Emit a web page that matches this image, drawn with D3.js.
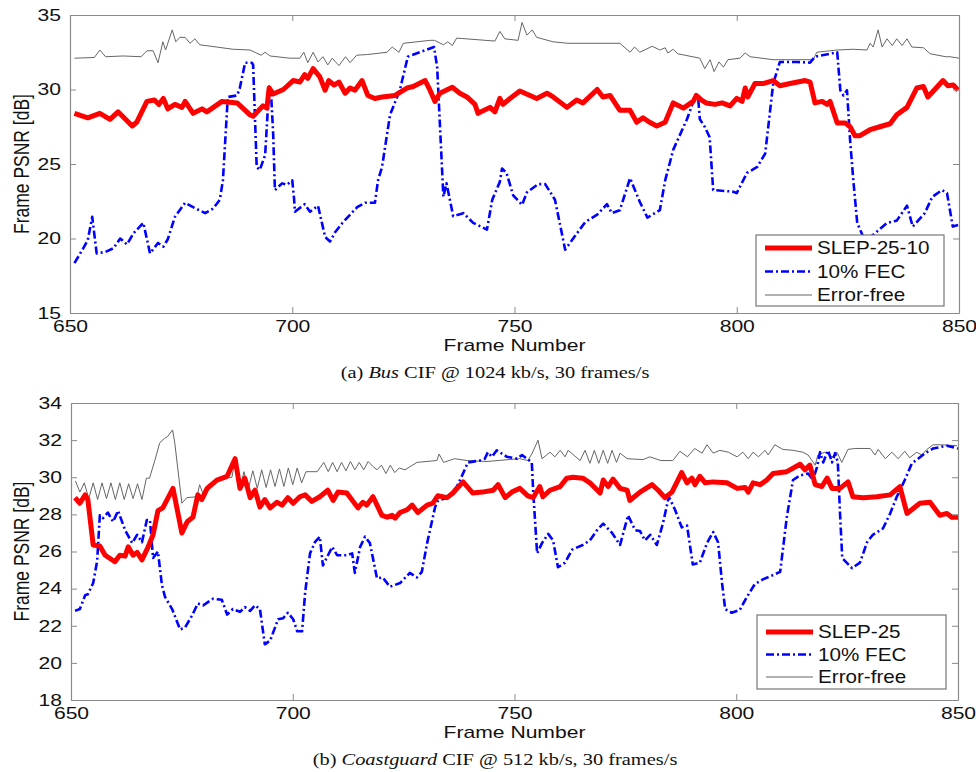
<!DOCTYPE html>
<html>
<head>
<meta charset="utf-8">
<script src="https://cdn.jsdelivr.net/npm/d3@7/dist/d3.min.js"></script>
<style>
  body { margin: 0; background: #fff; }
  svg { display: block; }
</style>
</head>
<body>
<div id="chart"></div>
<script>
/* =========================
   Data
========================= */
const frameTicks = [650, 700, 750, 800, 850];
const busPsnrTicks = [15, 20, 25, 30, 35];
const coastPsnrTicks = [18, 20, 22, 24, 26, 28, 30, 32, 34];

const busLegend = ["SLEP-25-10", "10% FEC", "Error-free"];
const coastLegend = ["SLEP-25", "10% FEC", "Error-free"];

const busCaption = ["(a) ", "Bus", " CIF @ 1024 kb/s, 30 frames/s"];
const coastCaption = ["(b) ", "Coastguard", " CIF @ 512 kb/s, 30 frames/s"];

// [frame, PSNR dB]
const busSlep = [[651,28.4],[652,28.3],[654,28.1],[656.7,28.4],[659,28.0],[660.8,28.5],[664,27.55],[665,27.8],[667.3,29.2],[669,29.3],[670,29.0],[671,29.4],[672,28.7],[673.6,29.0],[675.2,28.8],[675.9,29.2],[677.7,28.4],[679.7,28.7],[680.8,28.5],[684.2,29.2],[687.6,29.1],[690.5,28.3],[691.2,28.2],[693.4,28.9],[694.3,28.75],[694.8,30.1],[695.7,29.7],[698,30.0],[700.2,30.6],[701.7,30.5],[702.8,31.0],[703.5,30.75],[704.7,31.4],[706.2,30.85],[707.4,29.95],[708.2,30.6],[709.4,30.3],[710.5,30.5],[711.9,29.75],[713,30.1],[714.1,29.95],[715.7,30.6],[717,29.6],[718.6,29.4],[720.2,29.5],[723.1,29.6],[725.8,30.1],[727.2,30.2],[729.9,30.6],[731,29.95],[732.1,29.2],[733.2,29.75],[736,30.15],[737.7,29.75],[739.3,29.5],[741.1,29.0],[741.8,28.4],[744.5,28.8],[745.6,28.5],[746.7,29.4],[747.4,29.0],[749,29.4],[751.2,29.9],[755,29.4],[757.3,29.75],[758.7,29.5],[761.8,28.8],[764,29.3],[765.4,29.1],[768.6,30.0],[769.9,29.5],[771.5,29.6],[773.7,28.6],[776,28.6],[777.5,27.8],[778.9,28.1],[780.4,27.8],[782,27.55],[783.9,27.8],[785.7,29.1],[788,28.75],[790.2,29.2],[790.9,29.6],[792,29.3],[793.1,29.1],[795.1,29.0],[796.7,29.1],[798.5,28.9],[800,29.4],[801.2,29.2],[801.9,30.1],[802.5,29.5],[804.1,30.4],[805.9,30.4],[808.2,30.6],[809.7,30.25],[812,30.4],[815.4,30.6],[816.5,30.5],[817.6,29.1],[819.2,29.2],[820.3,29.0],[821,29.2],[822.6,27.75],[824.4,27.75],[825.5,27.5],[826.6,26.9],[827.7,26.9],[830,27.3],[832.2,27.5],[834.5,27.7],[836,28.3],[838.3,28.8],[840.5,30.1],[842,30.2],[843,29.5],[846.4,30.6],[847.5,30.25],[848.7,30.3],[849.8,29.95]];

const busFec = [[651,18.35],[653,19.35],[654,19.9],[655,21.45],[656,19.0],[658,19.1],[659.8,19.35],[661.3,20.0],[662.8,19.6],[664.3,20.35],[666.5,21.05],[668,19.0],[669.8,19.7],[671,19.45],[672,19.95],[673.6,21.45],[675.9,22.4],[677.7,22.1],[680.4,21.7],[682.2,22.0],[683.7,22.6],[684.4,23.9],[685.5,29.5],[687.6,29.6],[688.2,30.1],[689.4,31.8],[690.9,31.8],[691.2,31.65],[692,24.8],[692.7,24.6],[693.9,25.6],[694.8,30.2],[695.2,29.9],[695.7,27.1],[696.1,23.25],[697.7,23.7],[698.8,23.6],[700,23.9],[700.4,22.7],[700.6,21.8],[702.8,22.3],[704,21.8],[705.8,22.2],[707.4,20.1],[708.5,19.8],[709.6,20.4],[711.3,21.05],[714.6,22.1],[716.4,22.4],[718.6,22.4],[719.3,23.9],[720.2,24.8],[722,28.3],[724.2,29.95],[726,32.2],[728.7,32.5],[731.9,32.85],[732.6,31.5],[734,22.8],[734.7,23.7],[735.4,22.7],[736.2,21.5],[738.5,21.7],[740.7,21.05],[743.8,20.6],[745,22.6],[746.7,23.8],[747.2,24.7],[748.2,24.4],[749.7,22.9],[751.7,22.25],[752.8,23.1],[755.3,23.65],[756.9,23.65],[758.5,22.9],[759.1,22.6],[761.4,19.25],[763.2,20.0],[765.9,21.1],[768.6,21.6],[770.8,22.3],[771.9,21.7],[773.7,21.9],[776,24.05],[778.2,22.45],[779.9,21.4],[782.7,21.9],[783.9,23.9],[785.7,25.95],[788.8,28.0],[790.6,29.5],[791.3,29.5],[791.7,28.0],[792.8,27.5],[793.9,26.8],[794.7,23.25],[799,23.15],[800,23.05],[802.3,24.4],[804.6,24.8],[806.4,25.7],[808.2,30.4],[809.7,31.85],[813.6,31.85],[816.5,31.8],[817.6,32.2],[822.6,32.5],[823.3,29.95],[824,29.6],[824.8,29.95],[825.5,26.6],[826.2,24.0],[827.1,21.05],[828.9,19.8],[830.7,20.25],[833.8,21.05],[836,21.2],[838.3,22.2],[839.6,20.8],[842.3,21.7],[844,22.8],[846.2,23.25],[847.3,23.05],[848.6,20.8],[849.8,20.9]];

const busErrorFree = [[651,32.1],[655.5,32.15],[656.7,32.65],[658,32.2],[662,32.25],[666,32.2],[667.3,32.6],[668.7,32.6],[669.8,31.8],[670.9,33.2],[671.5,32.65],[673,34.0],[673.8,33.2],[674.7,33.5],[675.9,33.5],[677,33.1],[678.1,33.4],[679.2,33.0],[683,32.85],[686.7,32.7],[690.5,32.65],[691.6,32.5],[693,32.3],[693.9,32.5],[695,32.25],[699.5,32.1],[701.7,32.1],[702.6,32.5],[703.5,31.8],[704.7,32.5],[705.8,31.85],[706.9,32.2],[708,31.65],[709,32.1],[710.5,31.6],[712,32.2],[713,31.8],[714.5,32.3],[717,32.35],[721.3,32.5],[722.5,32.85],[724,32.5],[725,33.1],[731,33.3],[732,33.3],[734,33.0],[735,33.2],[736,32.95],[737,33.45],[745.6,33.25],[746.7,33.9],[747.8,33.4],[750.8,33.3],[751.7,34.5],[752.8,33.65],[754,34.0],[755,33.5],[758.7,33.2],[762,33.1],[773.7,33.1],[776,32.5],[777,32.85],[778.2,32.5],[781,32.9],[782.7,32.65],[783.9,32.8],[784.5,32.45],[785.7,32.7],[786.7,32.4],[791.7,32.1],[792.8,31.4],[794,32.0],[794.9,31.2],[796,31.85],[797,31.5],[798,32.0],[800.7,32.1],[801.9,32.45],[803,32.2],[808.2,32.0],[817.2,32.0],[818,32.5],[822.6,32.65],[826.2,32.7],[829.3,32.65],[830,33.1],[830.7,32.85],[831.8,34.0],[832.7,32.85],[833.8,33.4],[835,32.95],[836,33.4],[837.2,32.95],[838.3,33.4],[839.4,32.85],[842,32.8],[843.5,32.4],[847,32.2],[848,32.2],[850,32.1]];

const coastSlep = [[650.9,28.9],[652,28.6],[653.2,29.05],[653.8,28.8],[655,26.35],[656.5,26.3],[657.7,25.8],[659.9,25.45],[661,25.8],[662.2,25.75],[662.9,26.25],[664,25.8],[664.9,25.95],[666,25.55],[667.4,26.25],[668.5,26.9],[669.6,28.2],[670.7,28.35],[673,29.4],[675,27.0],[676.2,27.6],[677.5,27.85],[678.6,29.05],[679.5,28.8],[680.7,29.4],[682.9,29.85],[685.2,30.05],[687,31.0],[688.1,29.4],[689.2,29.95],[690.4,28.9],[691.5,29.3],[692.6,28.4],[693.7,28.8],[694.9,28.35],[696.4,28.65],[697.6,28.5],[698.9,28.9],[700.1,28.6],[701.6,28.95],[702.8,29.05],[704.3,28.7],[706.1,28.95],[707.9,29.3],[709.1,28.75],[710.2,29.2],[712.2,29.15],[714.7,28.35],[715.8,28.65],[716.7,28.5],[718.1,28.95],[720.1,27.95],[721.3,27.85],[722.4,27.95],[723.1,27.8],[724.2,28.1],[725.8,28.25],[726.9,28.5],[728.2,28.1],[730.3,28.5],[731.6,28.6],[732.7,29.0],[734.8,28.9],[736.1,29.15],[738.4,29.75],[740.6,29.15],[742.7,29.2],[745.2,29.3],[746.3,29.6],[747.9,28.9],[749.4,29.2],[751.2,29.4],[753,29.0],[754.2,28.9],[755.7,29.5],[756.4,28.95],[758,29.3],[760.3,29.5],[761.8,29.95],[763.2,30.0],[765.4,29.95],[767,29.7],[769.3,29.15],[770,29.85],[771.1,29.5],[772.2,29.9],[773.8,29.4],[775.4,29.3],[776,28.75],[778.3,29.2],[781,29.6],[782.4,29.3],[783.9,28.9],[785.5,29.2],[787.7,30.25],[788.9,29.7],[790,29.95],[790.7,29.6],[791.8,30.05],[793,29.7],[794.8,29.75],[797.9,29.7],[800.2,29.4],[802,29.45],[802.7,29.2],[803.8,29.7],[805.4,29.6],[806.9,29.85],[808.3,30.2],[811.4,30.3],[814.4,30.7],[815.5,30.4],[816.6,30.65],[817.8,29.6],[819.3,29.5],[820.5,29.95],[821.6,29.4],[823.4,29.4],[825.2,29.75],[826.3,28.95],[828.6,28.9],[831.7,28.95],[834.7,29.05],[836.9,29.5],[838.5,28.05],[841.4,28.6],[843.7,28.65],[845.9,27.95],[847.5,28.05],[848.6,27.85],[850,27.85]];

const coastFec = [[650.9,22.8],[652,22.9],[653.2,23.65],[653.8,23.7],[655,24.3],[655.9,25.5],[656.5,27.95],[657.2,27.8],[658.3,28.1],[659.5,27.6],[660.6,28.2],[662.2,27.15],[663.8,26.45],[664.9,26.9],[666,26.5],[667.1,27.7],[667.8,27.7],[668.5,25.65],[669.6,26.0],[670.5,24.2],[671.2,23.55],[672.8,22.9],[674.6,21.8],[675.7,21.9],[677.3,22.55],[678.6,23.2],[679.8,23.1],[682,23.45],[684,23.4],[685.2,22.6],[686.5,22.9],[688.1,22.75],[689.2,23.0],[690.4,22.8],[691.5,23.1],[692.6,22.9],[693.7,21.0],[694.9,21.2],[696.7,22.35],[697.8,22.4],[698.9,22.7],[700.1,22.35],[701,21.7],[702.1,21.7],[702.8,23.8],[703.9,25.9],[705,26.5],[706.1,26.8],[706.8,25.25],[708.9,26.25],[710,25.8],[712.2,25.8],[713.4,25.9],[714,24.85],[715.2,26.25],[716.3,26.8],[717.4,26.45],[719,24.55],[720.3,24.6],[721.9,24.1],[724.2,24.3],[726.4,24.85],[728,24.6],[729.1,24.9],[730.3,26.45],[732.1,28.4],[732.8,28.75],[735,28.9],[737,29.5],[738.2,30.1],[739.5,30.8],[742.2,30.9],[743.3,31.0],[744,31.35],[744.9,31.1],[746,31.45],[748.3,31.1],[750.6,31.0],[751.7,31.2],[752.8,31.0],[753.9,30.8],[754.2,29.3],[755.1,25.9],[756.2,26.45],[757.6,26.95],[758.7,26.6],[759.8,25.15],[761.4,25.4],[763,26.1],[765.4,26.35],[767,26.6],[768.6,27.15],[770,27.5],[772,27.0],[773.8,26.35],[775.6,27.95],[777.2,27.15],[778.3,27.1],[779.4,26.6],[780.6,26.9],[782.1,26.35],[783.5,27.55],[784.8,28.95],[786.2,28.25],[787.7,27.3],[788.9,27.4],[790.2,25.3],[791.8,25.4],[793.4,26.45],[794.8,27.05],[795.9,26.5],[796.8,24.3],[797.5,22.9],[799,22.7],[800.8,22.85],[802.4,23.55],[804.2,24.25],[806,24.5],[808,24.7],[809.9,24.9],[811.4,27.85],[812.8,29.85],[814.4,30.1],[816.2,30.2],[817.3,29.85],[818.2,30.55],[818.9,31.35],[819.6,30.8],[820.7,31.45],[821.6,30.8],[822.3,31.3],[822.9,30.8],[823.4,28.05],[823.9,25.65],[826.1,25.1],[827.9,25.4],[829.5,26.5],[830.8,26.9],[833.1,27.25],[834.7,28.05],[836.2,28.95],[838,29.85],[839.6,30.75],[841,31.0],[842.6,31.3],[844.4,31.55],[847.5,31.7],[850,31.55]];

const coastErrorFree = [[651,29.8],[652,29.2],[653,29.7],[654,28.85],[655,29.7],[656,28.8],[657,29.7],[658,28.85],[659,29.7],[660,28.8],[661,29.7],[662,28.8],[663,29.65],[664,28.85],[665,29.65],[666,28.8],[667,29.95],[667.7,29.95],[668.9,30.9],[670,31.85],[671.1,32.1],[671.8,32.2],[672.9,32.55],[673.4,31.85],[675,28.6],[676.1,28.9],[678.4,28.95],[679,29.6],[679.7,29.15],[680.9,29.6],[683.6,29.95],[686.3,30.0],[687,31.0],[688,29.3],[689,30.3],[690,29.4],[691,30.35],[692,29.4],[693,30.4],[694,29.45],[695,30.4],[696,29.5],[697,30.45],[698,29.5],[699,30.5],[700,29.6],[701,30.5],[702,29.7],[703,30.3],[705.5,30.3],[707,30.8],[708,30.3],[709,30.8],[710,30.3],[711,30.8],[712,30.35],[713,30.85],[714,30.4],[715,30.8],[716,30.4],[717,30.85],[718,30.6],[719,30.4],[720,30.65],[721,30.2],[722,30.65],[723,30.25],[724,30.5],[725.3,30.4],[728,30.8],[732.5,30.9],[733,31.25],[734,30.8],[736.5,31.0],[739.3,30.9],[743.8,30.85],[751.2,31.0],[753,30.9],[754,31.3],[755.3,32.0],[756.2,31.0],[758,31.35],[759.1,31.1],[760.3,31.45],[761.4,31.1],[762.1,31.45],[764.8,30.9],[765.9,31.45],[767,30.75],[768,31.45],[769,30.75],[770,31.45],[771,30.75],[772,31.45],[773,30.8],[773.8,31.3],[775.4,31.0],[779,30.95],[780.5,31.1],[783,30.9],[785.7,30.9],[787.3,31.4],[789,31.1],[790.6,31.55],[792.3,31.3],[793.4,31.75],[794.8,31.3],[796.3,31.45],[798.2,31.35],[800.2,31.1],[801.5,31.35],[802.7,31.0],[803.8,31.35],[805,31.1],[806.5,31.45],[807.2,31.2],[808.7,31.75],[810.5,31.5],[812.8,31.45],[815,31.35],[816.2,31.2],[817.8,30.65],[818.4,31.2],[820,31.35],[821.6,31.1],[822.7,31.35],[823.8,30.8],[825.2,31.5],[826.8,31.55],[830.2,31.55],[831.3,31.2],[832,31.5],[833.6,31.0],[835.1,31.35],[836.5,31.0],[838,31.4],[839.1,31.05],[840.7,31.35],[841.8,31.2],[843,31.5],[844.4,31.75],[846,31.75],[849.8,31.7]];

/* =========================
   Styles
========================= */
const lineStyles = [
    { color: "#ff0000", width: 5, dash: null },
    { color: "#0000ff", width: 2.6, dash: "8,3,2,3" },
    { color: "#666666", width: 1, dash: null }
];

// the reference figure is stretched horizontally, text included
const STRETCH = 1.28;
const SANS = "'Liberation Sans', Arial, sans-serif";

const svg = d3.select("#chart")
    .append("svg")
    .attr("width", 976)
    .attr("height", 772);

// text placed at (x,y) and widened horizontally
function stretchedText(parent, x, y, size, family, sx) {
    return parent.append("text")
        .attr("transform", `translate(${x},${y}) scale(${sx},1)`)
        .style("font-family", family)
        .style("font-size", size + "px")
        .attr("fill", "#111");
}

function drawPanel(p) {
    const x = d3.scaleLinear().domain([650, 850]).range([p.left, p.right]);
    const y = d3.scaleLinear().domain(d3.extent(p.yTicks)).range([p.bottom, p.top]);

    const g = svg.append("g");

    // clip so lines stay inside the box
    const clipId = "clip-" + p.id;
    g.append("clipPath").attr("id", clipId)
        .append("rect")
        .attr("x", p.left).attr("y", p.top)
        .attr("width", p.right - p.left).attr("height", p.bottom - p.top);

    const line = d3.line()
        .x(d => x(d[0]))
        .y(d => y(d[1]));

    // draw order: error-free, FEC, SLEP on top
    [2, 1, 0].forEach(i => {
        const s = lineStyles[i];
        g.append("path")
            .datum(p.series[i])
            .attr("clip-path", `url(#${clipId})`)
            .attr("fill", "none")
            .attr("stroke", s.color)
            .attr("stroke-width", s.width)
            .attr("stroke-linejoin", "round")
            .attr("stroke-dasharray", s.dash)
            .attr("d", line);
    });

    // axes (ticks inside, full box)
    const axisStyle = sel => {
        sel.selectAll(".domain").attr("stroke", "#8a8a8a").attr("stroke-width", 1.2);
        sel.selectAll(".tick line").attr("stroke", "#8a8a8a");
        sel.selectAll("text")
            .attr("fill", "#111")
            .style("font-family", SANS)
            .style("font-size", "16.5px");
    };

    g.append("g")
        .attr("transform", `translate(0,${p.bottom})`)
        .call(d3.axisBottom(x).tickValues(frameTicks).tickSizeInner(-6).tickSizeOuter(0).tickPadding(7))
        .call(axisStyle)
        .selectAll("text")
        .attr("transform", `scale(${STRETCH},1)`);

    g.append("g")
        .attr("transform", `translate(0,${p.top})`)
        .call(d3.axisTop(x).tickValues(frameTicks).tickSizeInner(-6).tickSizeOuter(0).tickFormat(""))
        .call(axisStyle);

    g.append("g")
        .attr("transform", `translate(${p.left},0)`)
        .call(d3.axisLeft(y).tickValues(p.yTicks).tickSizeInner(-6).tickSizeOuter(0).tickPadding(9))
        .call(axisStyle)
        .selectAll("text")
        .attr("x", -9 / STRETCH)
        .attr("transform", `scale(${STRETCH},1)`);

    g.append("g")
        .attr("transform", `translate(${p.right},0)`)
        .call(d3.axisRight(y).tickValues(p.yTicks).tickSizeInner(-6).tickSizeOuter(0).tickFormat(""))
        .call(axisStyle);

    // axis titles
    g.append("text")
        .attr("transform", `translate(29,${(p.top + p.bottom) / 2}) rotate(-90) scale(1,${STRETCH})`)
        .attr("text-anchor", "middle")
        .style("font-family", SANS)
        .style("font-size", "17.5px")
        .attr("fill", "#111")
        .text("Frame PSNR [dB]");

    stretchedText(g, (p.left + p.right) / 2, p.bottom + 38, 16, SANS, 1.32)
        .attr("text-anchor", "middle")
        .text("Frame Number");

    // caption
    const cap = stretchedText(g, 495, p.bottom + 65, 17, "'Liberation Serif', 'Times New Roman', serif", 1.2)
        .attr("text-anchor", "middle");
    p.caption.forEach((t, i) => {
        cap.append("tspan")
            .style("font-style", i === 1 ? "italic" : "normal")
            .text(t);
    });

    // legend
    const lg = g.append("g").attr("transform", `translate(${p.legend.x},${p.legend.y})`);
    lg.append("rect")
        .attr("width", p.legend.w)
        .attr("height", p.legend.h)
        .attr("fill", "#fff")
        .attr("stroke", "#777")
        .attr("stroke-width", 1.2);

    p.names.forEach((name, i) => {
        const s = lineStyles[i];
        const cy = p.legend.row0 + i * p.legend.step;
        lg.append("line")
            .attr("x1", 9).attr("x2", 56)
            .attr("y1", cy).attr("y2", cy)
            .attr("stroke", s.color)
            .attr("stroke-width", s.width)
            .attr("stroke-dasharray", s.dash);
        stretchedText(lg, 61, cy, 17.5, SANS, 1.18)
            .attr("dy", "0.36em")
            .text(name);
    });
}

drawPanel({
    id: "bus",
    left: 70, right: 959, top: 15, bottom: 313,
    yTicks: busPsnrTicks,
    series: [busSlep, busFec, busErrorFree],
    names: busLegend,
    caption: busCaption,
    legend: { x: 756, y: 235, w: 188, h: 71, row0: 13, step: 23.5 }
});

drawPanel({
    id: "coast",
    left: 71, right: 958, top: 403, bottom: 700,
    yTicks: coastPsnrTicks,
    series: [coastSlep, coastFec, coastErrorFree],
    names: coastLegend,
    caption: coastCaption,
    legend: { x: 757, y: 615, w: 189, h: 74, row0: 17, step: 22.5 }
});
</script>
</body>
</html>
